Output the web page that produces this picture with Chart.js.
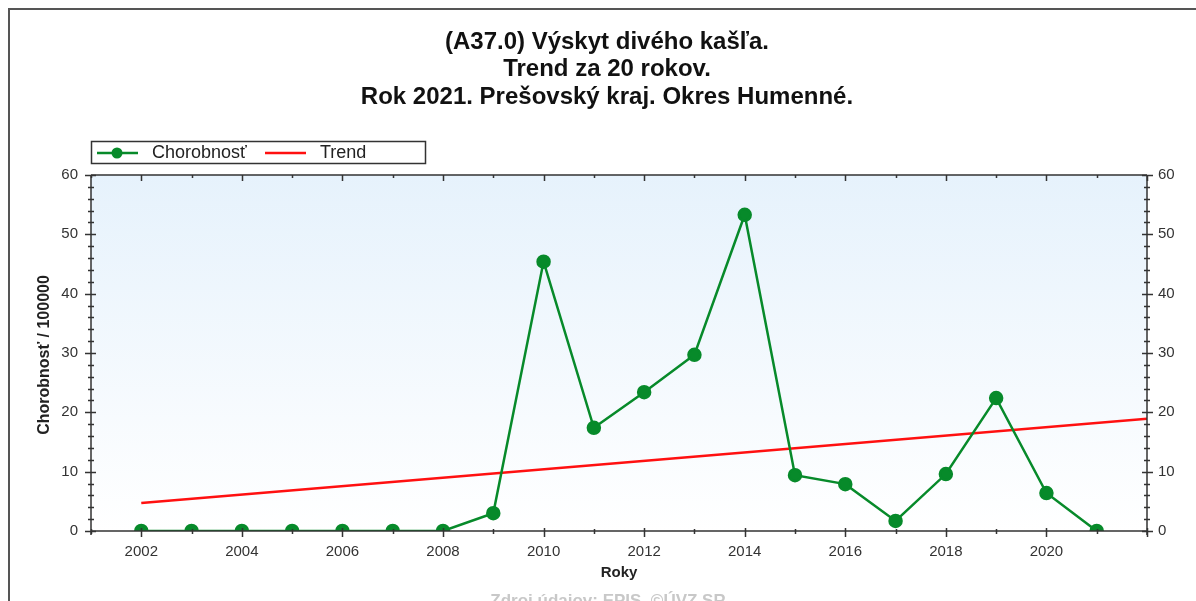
<!DOCTYPE html>
<html lang="sk">
<head>
<meta charset="UTF-8">
<title>Výskyt divého kašľa - Humenné</title>
<script src="https://cdn.jsdelivr.net/npm/chart.js"></script>
<style>
  body { margin: 0; background: #fff; }
  #wrap { width: 1196px; height: 601px; }
</style>
</head>
<body>
<div id="wrap"><canvas id="chart" width="1196" height="601"></canvas></div>
<script>
const titleLines = ["(A37.0) Výskyt divého kašľa.", "Trend za 20 rokov.", "Rok 2021. Prešovský kraj. Okres Humenné."];
const years = [2002, 2003, 2004, 2005, 2006, 2007, 2008, 2009, 2010, 2011, 2012, 2013, 2014, 2015, 2016, 2017, 2018, 2019, 2020, 2021];
const chorobnost = [0, 0, 0, 0, 0, 0, 0, 3.0, 45.4, 17.4, 23.4, 29.7, 53.3, 9.4, 7.9, 1.7, 9.6, 22.4, 6.4, 0];
const trendYears = [2002, 2022];
const trendValues = [4.7, 18.9];
const xLabels = [2002, 2004, 2006, 2008, 2010, 2012, 2014, 2016, 2018, 2020];
const xMin = 2001, xMax = 2022;
const yMin = 0, yMax = 60;

const green = "#078a2a";
const red = "#ff1010";
const axisColor = "#333";
const fontFam = "'Liberation Sans', Arial, sans-serif";

const framePlugin = {
  id: "frame",
  beforeDraw(chart) {
    const ctx = chart.ctx, a = chart.chartArea;
    ctx.save();
    ctx.fillStyle = "#fff";
    ctx.fillRect(0, 0, chart.width, chart.height);
    ctx.strokeStyle = "#555";
    ctx.lineWidth = 2;
    ctx.strokeRect(9, 9, chart.width + 20, chart.height + 20);
    const g = ctx.createLinearGradient(0, a.top, 0, a.bottom);
    g.addColorStop(0, "#e6f2fc");
    g.addColorStop(1, "#ffffff");
    ctx.fillStyle = g;
    ctx.fillRect(a.left, a.top, a.right - a.left, a.bottom - a.top);
    ctx.restore();
  },
  // keep the markers inside the plot, like the original (half dots on the 0 line)
  beforeDatasetsDraw(chart) {
    const ctx = chart.ctx, a = chart.chartArea;
    ctx.save();
    ctx.beginPath();
    ctx.rect(a.left, a.top, a.right - a.left, a.bottom - a.top);
    ctx.clip();
  },
  afterDatasetsDraw(chart) {
    chart.ctx.restore();
  },
  afterDraw(chart) {
    const ctx = chart.ctx, a = chart.chartArea;
    const xs = chart.scales.x, yl = chart.scales.y;
    ctx.save();
    // plot frame
    ctx.strokeStyle = axisColor;
    ctx.lineWidth = 1.5;
    ctx.beginPath();
    ctx.moveTo(a.left, a.top); ctx.lineTo(a.right, a.top);
    ctx.moveTo(a.left, a.bottom); ctx.lineTo(a.right, a.bottom);
    ctx.moveTo(a.left, a.top); ctx.lineTo(a.left, a.bottom + 4);
    ctx.moveTo(a.right, a.top); ctx.lineTo(a.right, a.bottom + 4);
    ctx.stroke();
    // x ticks
    ctx.beginPath();
    for (let yv = xMin; yv <= xMax; yv++) {
      const px = Math.round(xs.getPixelForValue(yv)) + 0.5;
      const major = yv % 2 === 0;
      ctx.moveTo(px, a.top); ctx.lineTo(px, a.top + (major ? 6 : 3));
      ctx.moveTo(px, a.bottom - (major ? 3 : 2)); ctx.lineTo(px, a.bottom + (major ? 6 : 3));
    }
    // y ticks
    for (let v = yMin; v <= yMax; v += 2) {
      const py = Math.round(yl.getPixelForValue(v)) + 0.5;
      const major = v % 10 === 0;
      const l = major ? 6 : 3;
      ctx.moveTo(a.left - l, py); ctx.lineTo(a.left + (major ? 5 : 3), py);
      ctx.moveTo(a.right - (major ? 5 : 3), py); ctx.lineTo(a.right + l, py);
    }
    ctx.stroke();
    // titles
    ctx.fillStyle = "#111";
    ctx.textAlign = "center";
    ctx.textBaseline = "middle";
    ctx.font = "bold 24px " + fontFam;
    titleLines.forEach((t, i) => ctx.fillText(t, 607, 42 + i * 27.5));
    // axis titles
    ctx.font = "bold 15px " + fontFam;
    ctx.fillStyle = "#222";
    ctx.fillText("Roky", (a.left + a.right) / 2, 573);
    ctx.save();
    ctx.translate(45, 355);
    ctx.rotate(-Math.PI / 2);
    ctx.font = "bold 16px " + fontFam;
    ctx.fillText("Chorobnosť / 100000", 0, 0);
    ctx.restore();
    // source
    ctx.font = "bold 17px " + fontFam;
    ctx.fillStyle = "#c8c8c8";
    ctx.fillText("Zdroj údajov: EPIS, ©ÚVZ SR", 608, 601);
    // legend
    ctx.fillStyle = "#fff";
    ctx.fillRect(91, 141, 335, 23);
    ctx.strokeStyle = "#333";
    ctx.lineWidth = 1.5;
    ctx.strokeRect(91.5, 141.5, 334, 22);
    ctx.lineWidth = 2.5;
    ctx.strokeStyle = green;
    ctx.beginPath(); ctx.moveTo(97, 153); ctx.lineTo(138, 153); ctx.stroke();
    ctx.fillStyle = green;
    ctx.beginPath(); ctx.arc(117, 153, 5.5, 0, Math.PI * 2); ctx.fill();
    ctx.strokeStyle = red;
    ctx.beginPath(); ctx.moveTo(265, 153); ctx.lineTo(306, 153); ctx.stroke();
    ctx.font = "18px " + fontFam;
    ctx.fillStyle = "#222";
    ctx.textAlign = "left";
    ctx.fillText("Chorobnosť", 152, 153);
    ctx.fillText("Trend", 320, 153);
    ctx.restore();
  }
};

const tickFont = { size: 15, family: fontFam };

new Chart(document.getElementById("chart"), {
  type: "line",
  data: {
    datasets: [
      {
        label: "Chorobnosť",
        data: years.map((y, i) => ({ x: y, y: chorobnost[i] })),
        borderColor: green,
        backgroundColor: green,
        borderWidth: 2.5,
        pointRadius: 6,
        pointHoverRadius: 6,
        tension: 0,
        order: 1
      },
      {
        label: "Trend",
        data: trendYears.map((y, i) => ({ x: y, y: trendValues[i] })),
        borderColor: red,
        borderWidth: 2.5,
        pointRadius: 0,
        tension: 0,
        order: 2
      }
    ]
  },
  options: {
    responsive: false,
    animation: false,
    layout: { padding: { top: 175, left: 0, right: 0, bottom: 0 } },
    plugins: { legend: { display: false }, title: { display: false }, tooltip: { enabled: false } },
    scales: {
      x: {
        type: "linear", min: xMin, max: xMax,
        afterFit(s) { s.height = 70; },
        afterBuildTicks(s) { s.ticks = xLabels.map(v => ({ value: v })); },
        grid: { display: false, drawTicks: false },
        border: { display: false },
        ticks: { padding: 12, color: "#333", font: tickFont, maxRotation: 0, autoSkip: false, callback: v => String(v) }
      },
      y: {
        position: "left", min: yMin, max: yMax,
        afterFit(s) { s.width = 91; },
        grid: { display: false, drawTicks: false },
        border: { display: false },
        ticks: { stepSize: 10, padding: 13, color: "#333", font: tickFont }
      },
      y2: {
        position: "right", min: yMin, max: yMax,
        afterFit(s) { s.width = 49; },
        grid: { display: false, drawTicks: false },
        border: { display: false },
        ticks: { stepSize: 10, padding: 11, color: "#333", font: tickFont }
      }
    }
  },
  plugins: [framePlugin]
});
</script>
</body>
</html>
